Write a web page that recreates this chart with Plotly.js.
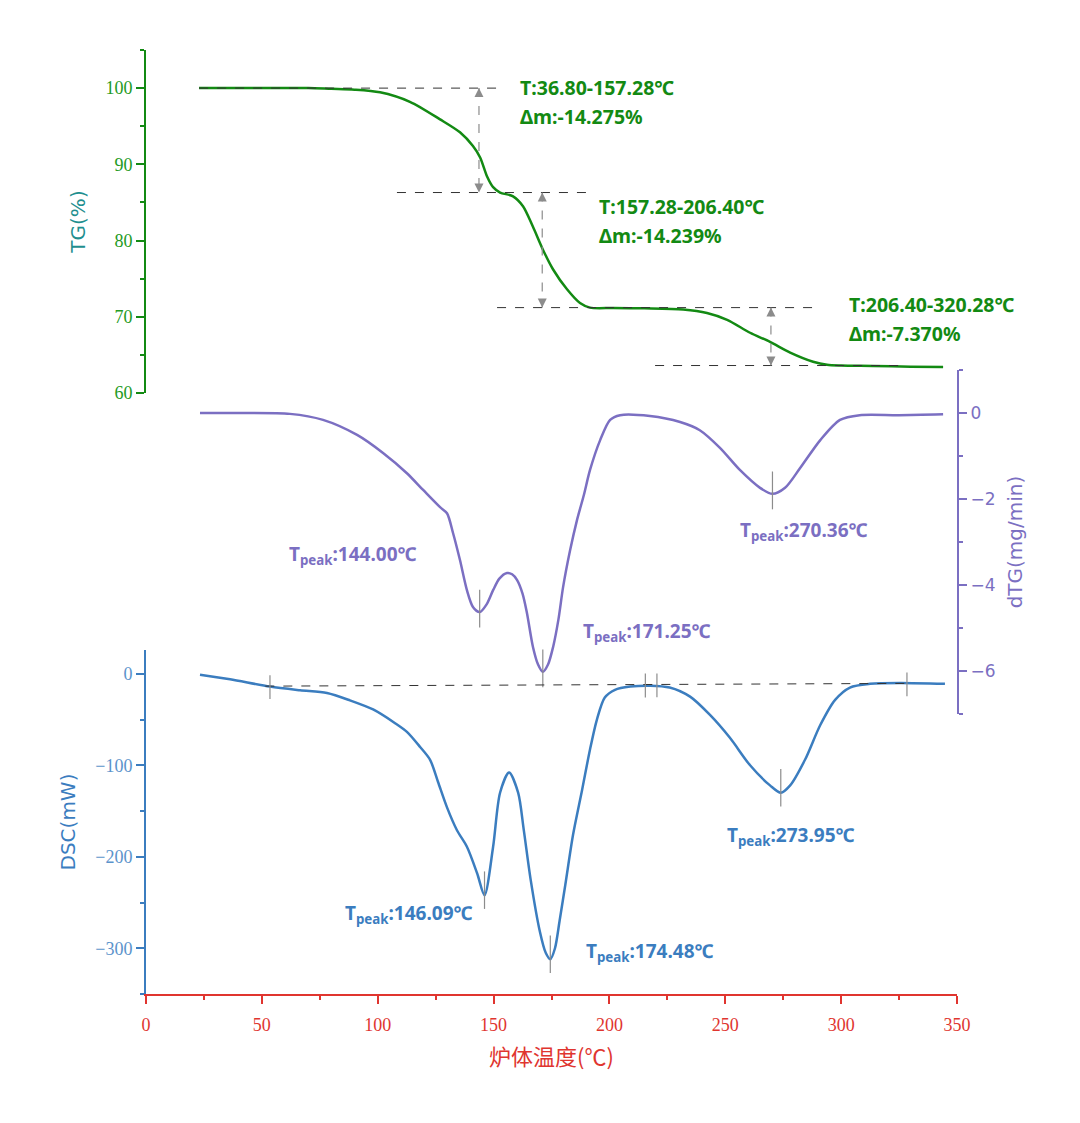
<!DOCTYPE html>
<html>
<head>
<meta charset="utf-8">
<script src="https://cdn.plot.ly/plotly-3.0.1.min.js"></script>
<style>html,body{margin:0;padding:0;background:#fff;}#chart{width:1080px;height:1123px;}</style>
</head>
<body>
<div id="chart"></div>
<script>
// ---------- data ----------
const tgT = [22.9, 40, 55, 70, 80, 90, 101, 113.9, 126.9, 135.5, 141.1, 144.2, 147.2, 149.8, 152.8, 158.4, 162.7, 167, 171.3, 175.7, 181.7, 187.3, 191.6, 201.6, 215, 231.8, 242.1, 250.8, 260.7, 269.3, 278, 287.9, 293.9, 300, 313.8, 330, 344];
const tgV = [100, 100, 100, 100, 99.9, 99.8, 99.45, 98.2, 95.9, 94.2, 92.4, 90.9, 88.4, 87.0, 86.3, 85.8, 84.5, 81.8, 78.8, 76.2, 73.6, 71.8, 71.2, 71.15, 71.1, 70.95, 70.5, 69.6, 67.9, 66.7, 65.3, 64.1, 63.7, 63.6, 63.55, 63.45, 63.4];

const dtgT = [23.3, 40, 62.1, 76.4, 91.1, 102.3, 112.6, 119.6, 126.9, 129.9, 132.5, 135.5, 138.5, 141.1, 144.0, 147, 149.8, 152.5, 155.8, 158, 160.1, 162.5, 164.4, 167, 169.2, 171.25, 173.5, 175.7, 178, 180, 183, 186, 189, 191.6, 196, 200.3, 204.6, 217.5, 230.5, 239, 247.7, 256.4, 265, 270.36, 275.8, 282.3, 291, 299.5, 308, 325, 344];
const dtgV = [0.0, 0.0, -0.02, -0.16, -0.51, -0.93, -1.40, -1.79, -2.19, -2.33, -2.79, -3.42, -4.12, -4.51, -4.63, -4.45, -4.12, -3.85, -3.72, -3.75, -3.88, -4.2, -4.65, -5.44, -5.85, -6.02, -5.85, -5.44, -4.8, -4.05, -3.2, -2.49, -1.9, -1.33, -0.63, -0.16, -0.05, -0.07, -0.21, -0.40, -0.81, -1.33, -1.74, -1.88, -1.74, -1.28, -0.63, -0.16, -0.05, -0.05, -0.03];

const dscT = [23.3, 36.3, 53.5, 66.5, 78.1, 88, 98, 107.5, 112.6, 118.3, 122.6, 126, 129.9, 134.2, 138.5, 142.9, 146.09, 149.8, 152.8, 156.7, 160.6, 163, 166, 170, 172.5, 174.48, 176.5, 178.5, 181, 184.3, 188.2, 191.6, 194.6, 198, 202.4, 209, 217.5, 226, 234.8, 243.4, 252, 260.7, 269.3, 273.95, 278, 284.4, 291, 297.4, 303.8, 312.5, 325.4, 344.8];
const dscV = [-1, -6, -14, -18, -21, -29, -39, -54, -63.5, -80, -94, -118, -146, -171, -189, -218, -242, -189, -130, -108, -130, -170, -225, -282, -305, -312, -300, -270, -230, -176, -127, -83, -50, -26, -17.5, -14, -13, -15, -25, -45, -70, -100, -122, -130, -122, -94, -56, -28.5, -15, -11, -10, -11];

// mass-loss steps
const stepStart = [36.80, 157.28, 206.40];
const stepEnd   = [157.28, 206.40, 320.28];
const stepLoss  = [-14.275, -14.239, -7.370];
const tgLevels  = [100, 86.3, 71.2, 63.6];

// peaks
const dtgPeakT = [144.00, 171.25, 270.36];
const dtgPeakV = [-4.63, -6.02, -1.88];
const dscPeakT = [146.09, 174.48, 273.95];
const dscPeakV = [-242, -312, -130];

// DSC baseline points
const baseT = [53.5, 215.5, 220.5, 328.4];
const baseV = [-13.5, -11.8, -11.7, -10.5];

// tick values
const tgTicks  = [60, 70, 80, 90, 100];
const dtgTicks = [0, -2, -4, -6];
const dscTicks = [0, -100, -200, -300];
const xTicks   = [0, 50, 100, 150, 200, 250, 300, 350];

// ---------- styling / layout ----------
const cTG = '#138a13', cTGtick = '#239a23', cTGtitle = '#1f8f8f';
const cDTG = '#7b6fc2';
const cDSC = '#3b7dbf', cDSCtick = '#5b93cb';
const cX = '#e0352f';
const gray = '#8c8c8c';
const sansB = 'Noto Sans, DejaVu Sans, sans-serif';
const serif = 'Liberation Serif, Times New Roman, serif';

const arrowT = [143.7, 171.0, 269.7];

const traces = [
  {x: tgT, y: tgV, xaxis: 'x', yaxis: 'y', mode: 'lines', line: {color: cTG, width: 2.5, shape: 'spline', smoothing: 0.8}, hoverinfo: 'skip'},
  {x: dtgT, y: dtgV, xaxis: 'x', yaxis: 'y2', mode: 'lines', line: {color: cDTG, width: 2.5, shape: 'spline', smoothing: 0.8}, hoverinfo: 'skip'},
  {x: dscT, y: dscV, xaxis: 'x', yaxis: 'y3', mode: 'lines', line: {color: cDSC, width: 2.5, shape: 'spline', smoothing: 0.8}, hoverinfo: 'skip'},
  // arrow heads of the mass-loss double arrows (tip sits on the level)
  {x: arrowT.concat(arrowT), y: tgLevels.slice(0, 3).concat(tgLevels.slice(1, 4)), xaxis: 'x', yaxis: 'y', mode: 'markers',
   marker: {symbol: ['arrow-up', 'arrow-up', 'arrow-up', 'arrow-down', 'arrow-down', 'arrow-down'], size: 9, color: gray, line: {width: 0}},
   hoverinfo: 'skip', cliponaxis: false}
];

const shapes = [];
const annotations = [];

// dashed level lines (extent in °C)
const levelExtent = [[22.9, 153.6], [108.3, 190.8], [151.5, 290.9], [219.7, 325.4]];
tgLevels.forEach((lv, i) => {
  shapes.push({type: 'line', xref: 'x', yref: 'y', x0: levelExtent[i][0], x1: levelExtent[i][1], y0: lv, y1: lv,
    line: {color: '#333', width: 1, dash: 'dash'}});
});
// dashed stems of the double arrows
arrowT.forEach((t, i) => {
  shapes.push({type: 'line', xref: 'x', yref: 'y', x0: t, x1: t, y0: tgLevels[i], y1: tgLevels[i + 1],
    line: {color: gray, width: 1.2, dash: 'dash'}});
});
// step labels
const stepLabelPos = [[160.6, 100.1, 96.3], [194.6, 84.5, 80.7], [302.5, 71.6, 67.8]];
stepStart.forEach((s, i) => {
  const p = stepLabelPos[i];
  annotations.push({xref: 'x', yref: 'y', x: p[0], y: p[1], xanchor: 'left', yanchor: 'middle', showarrow: false,
    text: '<b>T:' + s.toFixed(2) + '-' + stepEnd[i].toFixed(2) + '℃</b>', font: {family: sansB, size: 19.5, color: cTG}});
  annotations.push({xref: 'x', yref: 'y', x: p[0], y: p[2], xanchor: 'left', yanchor: 'middle', showarrow: false,
    text: '<b>Δm:' + stepLoss[i].toFixed(3) + '%</b>', font: {family: sansB, size: 19.5, color: cTG}});
});

// peak markers & labels
const dtgLabelPos = [[60.9, -3.30], [187.7, -5.09], [255.5, -2.74]];
dtgPeakT.forEach((t, i) => {
  shapes.push({type: 'line', xref: 'x', yref: 'y2', x0: t, x1: t, y0: dtgPeakV[i] + 0.52, y1: dtgPeakV[i] - 0.36,
    line: {color: gray, width: 1.2}});
  annotations.push({xref: 'x', yref: 'y2', x: dtgLabelPos[i][0], y: dtgLabelPos[i][1], xanchor: 'left', yanchor: 'middle', showarrow: false,
    text: '<b>T<sub>peak</sub>:' + t.toFixed(2) + '℃</b>', font: {family: sansB, size: 19, color: cDTG}});
});
const dscLabelPos = [[85.0, -262.9], [189.0, -304.5], [249.9, -177.4]];
dscPeakT.forEach((t, i) => {
  shapes.push({type: 'line', xref: 'x', yref: 'y3', x0: t, x1: t, y0: dscPeakV[i] + 26, y1: dscPeakV[i] - 15,
    line: {color: gray, width: 1.2}});
  annotations.push({xref: 'x', yref: 'y3', x: dscLabelPos[i][0], y: dscLabelPos[i][1], xanchor: 'left', yanchor: 'middle', showarrow: false,
    text: '<b>T<sub>peak</sub>:' + t.toFixed(2) + '℃</b>', font: {family: sansB, size: 19, color: cDSC}});
});

// DSC baseline
shapes.push({type: 'line', xref: 'x', yref: 'y3', x0: baseT[0] - 2, x1: baseT[baseT.length - 1], y0: baseV[0], y1: baseV[baseV.length - 1],
  line: {color: '#333', width: 1, dash: 'dash'}});
baseT.forEach((t, i) => {
  shapes.push({type: 'line', xref: 'x', yref: 'y3', x0: t, x1: t, y0: baseV[i] + 12, y1: baseV[i] - 14,
    line: {color: gray, width: 1.2}});
});

function yAxis(color, tickColor, domain, range, ticks, minorDtick, side, title, titleColor, tickFont, tickSize) {
  return {
    domain: domain, range: range, anchor: 'x', side: side,
    showline: true, linecolor: color, linewidth: 2,
    ticks: 'outside', ticklen: 8, tickwidth: 2, tickcolor: color,
    tickvals: ticks, ticktext: ticks.map(v => (v < 0 ? '\u2212' + Math.abs(v) : String(v))),
    tickfont: {family: tickFont, size: tickSize, color: tickColor},
    minor: {ticks: 'outside', ticklen: 4, tickwidth: 2, tickcolor: color, dtick: minorDtick, tick0: 0},
    showgrid: false, zeroline: false, fixedrange: true,
    title: {text: title, font: {family: 'DejaVu Sans, sans-serif', size: 20, color: titleColor}, standoff: 14}
  };
}

const layout = {
  width: 1080, height: 1123,
  margin: {l: 146, r: 123, t: 50, b: 129},
  paper_bgcolor: '#fff', plot_bgcolor: 'rgba(0,0,0,0)',
  showlegend: false,
  xaxis: {
    domain: [0, 1], range: [0, 350], anchor: 'y3',
    showline: true, linecolor: cX, linewidth: 2,
    ticks: 'outside', ticklen: 8, tickwidth: 2, tickcolor: cX,
    tickvals: xTicks, tickfont: {family: serif, size: 18, color: cX}, ticklabelstandoff: 5,
    minor: {ticks: 'outside', ticklen: 4, tickwidth: 2, tickcolor: cX, dtick: 25, tick0: 0},
    showgrid: false, zeroline: false, fixedrange: true,
    title: {text: '炉体温度(℃)', font: {family: 'Noto Sans CJK SC, sans-serif', size: 22, color: cX}, standoff: 16}
  },
  yaxis: yAxis(cTG, cTGtick, [0.6367, 1], [60, 105], tgTicks, 5, 'left', 'TG(%)', cTGtitle, serif, 18),
  yaxis2: yAxis(cDTG, cDTG, [0.2966, 0.661], [-7, 1], dtgTicks, 1, 'right', 'dTG(mg/min)', cDTG, 'DejaVu Sans, sans-serif', 17),
  yaxis3: yAxis(cDSC, cDSCtick, [0, 0.3644], [-350, 26], dscTicks, 50, 'left', 'DSC(mW)', cDSC, serif, 18),
  shapes: shapes,
  annotations: annotations
};

Plotly.newPlot('chart', traces, layout, {displayModeBar: false, staticPlot: true});
</script>
</body>
</html>
